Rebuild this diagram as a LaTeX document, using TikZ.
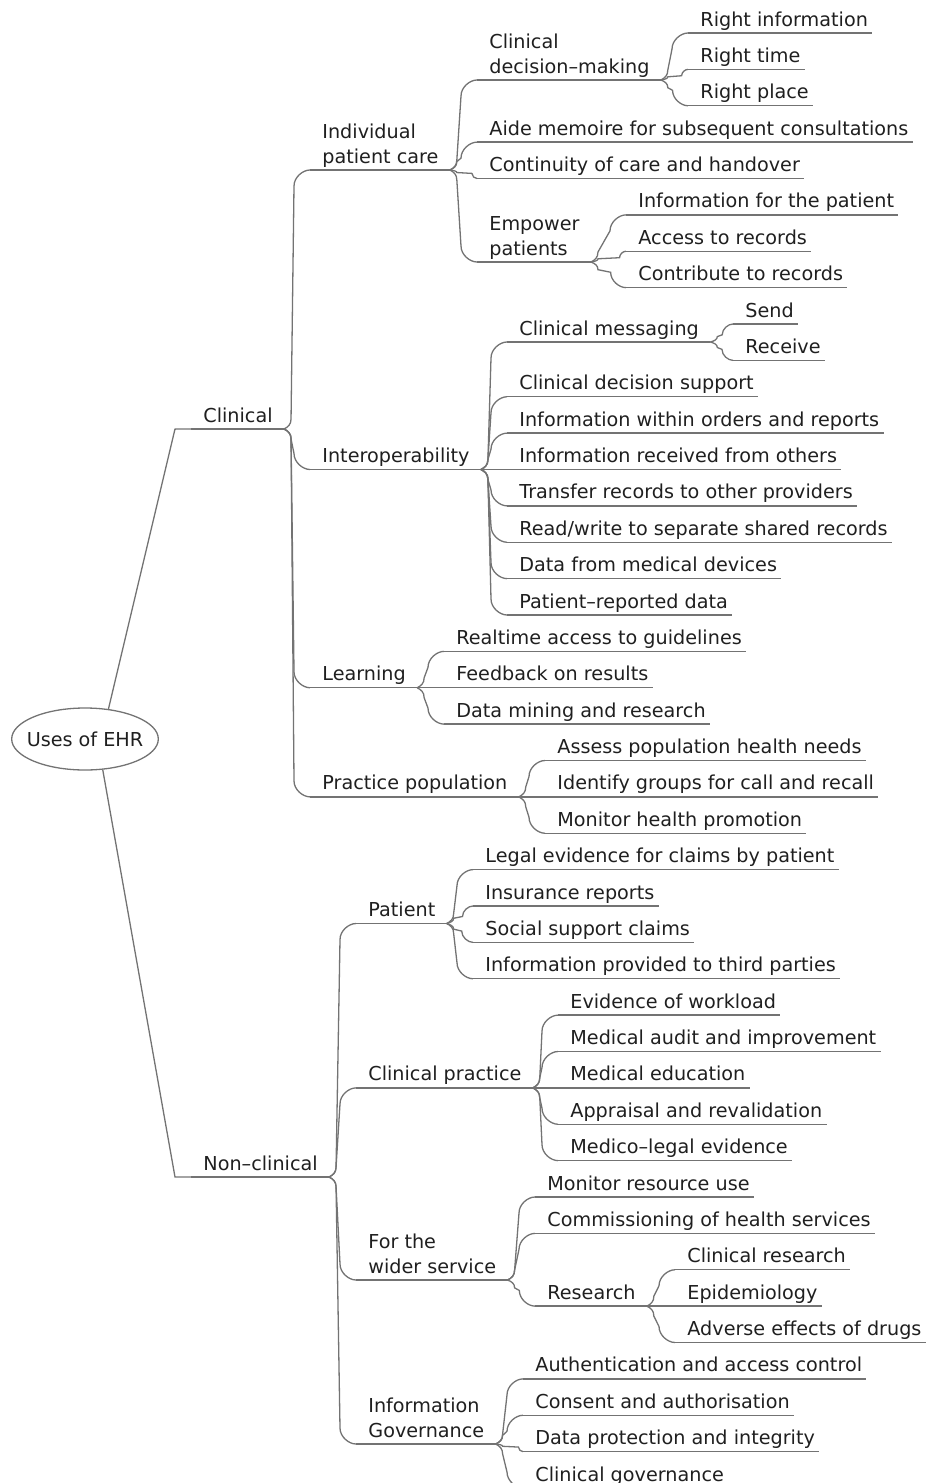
\documentclass[tikz,border=0pt]{standalone}
\usepackage{fontspec}
\setmainfont{DejaVu Sans}
\usetikzlibrary{calc,shapes.geometric}
\begin{document}
\begin{tikzpicture}[x=0.5pt,y=-0.5pt,
  every node/.style={font=\fontsize{9.6}{12.5}\selectfont, text=black!88},
  item/.style={anchor=south west, inner sep=0pt, align=left, text depth=0pt},
  link/.style={draw=black!55, line width=0.65pt},
  % bracket-like connector: short bend at the parent, steep run,
  % rounded corner into the child's underline
  twig/.style={to path={let \p1=(\tikztostart), \p2=(\tikztotarget),
      \n1={\y2-\y1}, \n2={abs(\n1)}, \n3={\n1/max(\n2,0.001)},
      \n4={min(5,0.3*\n2)}, \n5={min(8,0.6*\n2)} in
      .. controls (\x1+2pt,\y1+0.2*\n3*\n4) and (\x1+3.5pt,\y1+0.45*\n3*\n4)
      .. (\x1+3.5pt,\y1+\n3*\n4)
      -- (\x2-\n5,\y2-\n3*\n5)
      .. controls (\x2-\n5,\y2-0.45*\n3*\n5) and (\x2-0.45*\n5,\y2)
      .. (\tikztotarget)}},
  % straight slanted connector with a rounded corner at the child
  stem/.style={to path={let \p1=(\tikztostart), \p2=(\tikztotarget),
      \p3=(\x2-8pt,\y2), \n1={veclen(\x3-\x1,\y3-\y1)},
      \p4=($(\p3)!{10/\n1}!(\p1)$) in
      -- (\p4) .. controls ($(\p4)!0.6!(\p3)$) and ($(\p2)!0.6!(\p3)$)
      .. (\tikztotarget)}}]
\useasboundingbox (0,0) rectangle (930,1483);

% root
\node[ellipse, draw=black!55, line width=0.65pt, inner xsep=-3.2pt,
      inner ysep=0pt, minimum height=31pt] (root) at (85,739) {Uses of EHR};

% first level
\node[item] (cl) at (203,422.5) {Clinical};
\node[item] (nc) at (203,1170.5) {Non–clinical};

% clinical
\node[item] (ipc) at (322,163.5) {Individual\\patient care};
\node[item] (io) at (322,463) {Interoperability};
\node[item] (le) at (322,681.25) {Learning};
\node[item] (pp) at (322,790.375) {Practice population};

\node[item] (cdm) at (489,73.5) {Clinical\\decision–making};
\node[item] (am) at (489,135.625) {Aide memoire for subsequent consultations};
\node[item] (cc) at (489,172) {Continuity of care and handover};
\node[item] (ep) at (489,255.5) {Empower\\patients};

\node[item] (r1) at (700,26.5) {Right information};
\node[item] (r2) at (700,62.875) {Right time};
\node[item] (r3) at (700,99.25) {Right place};

\node[item] (e1) at (638,208.375) {Information for the patient};
\node[item] (e2) at (638,244.75) {Access to records};
\node[item] (e3) at (638,281.125) {Contribute to records};

\node[item] (cm) at (519,335.5) {Clinical messaging};
\node[item] (s1) at (745,317.5) {Send};
\node[item] (s2) at (745,353.875) {Receive};
\node[item] (i1) at (519,390.25) {Clinical decision support};
\node[item] (i2) at (519,426.625) {Information within orders and reports};
\node[item] (i3) at (519,463) {Information received from others};
\node[item] (i4) at (519,499.375) {Transfer records to other providers};
\node[item] (i5) at (519,535.75) {Read/write to separate shared records};
\node[item] (i6) at (519,572.125) {Data from medical devices};
\node[item] (i7) at (519,608.5) {Patient–reported data};

\node[item] (l1) at (456,644.875) {Realtime access to guidelines};
\node[item] (l2) at (456,681.25) {Feedback on results};
\node[item] (l3) at (456,717.625) {Data mining and research};

\node[item] (p1) at (557,754) {Assess population health needs};
\node[item] (p2) at (557,790.375) {Identify groups for call and recall};
\node[item] (p3) at (557,826.75) {Monitor health promotion};

% non-clinical
\node[item] (pa) at (368,917) {Patient};
\node[item] (cp) at (368,1081.375) {Clinical practice};
\node[item] (ws) at (368,1273.5) {For the\\wider service};
\node[item] (ig) at (368,1437.5) {Information\\Governance};

\node[item] (a1) at (485,863.125) {Legal evidence for claims by patient};
\node[item] (a2) at (485,899.5) {Insurance reports};
\node[item] (a3) at (485,935.875) {Social support claims};
\node[item] (a4) at (485,972.25) {Information provided to third parties};

\node[item] (c1) at (570,1008.625) {Evidence of workload};
\node[item] (c2) at (570,1045) {Medical audit and improvement};
\node[item] (c3) at (570,1081.375) {Medical education};
\node[item] (c4) at (570,1117.75) {Appraisal and revalidation};
\node[item] (c5) at (570,1154.125) {Medico–legal evidence};

\node[item] (w1) at (547,1190.5) {Monitor resource use};
\node[item] (w2) at (547,1226.875) {Commissioning of health services};
\node[item] (rs) at (547,1299.625) {Research};
\node[item] (x1) at (687,1263.25) {Clinical research};
\node[item] (x2) at (687,1299.625) {Epidemiology};
\node[item] (x3) at (687,1336) {Adverse effects of drugs};

\node[item] (g1) at (535,1372.375) {Authentication and access control};
\node[item] (g2) at (535,1408.75) {Consent and authorisation};
\node[item] (g3) at (535,1445.125) {Data protection and integrity};
\node[item] (g4) at (535,1481.5) {Clinical governance};

% underlines of branching topics
\foreach \n in {cl,nc,ipc,io,le,pp,pa,cp,ws,ig,cdm,ep,cm,rs}
  \draw[link] ($(\n.south west)+(-12,6.5)$) coordinate (\n-in)
    -- ($(\n.south east)+(11,6.5)$) coordinate (\n-out);

% underlines of leaf topics
\foreach \n in {am,cc,r1,r2,r3,e1,e2,e3,s1,s2,i1,i2,i3,i4,i5,i6,i7,
                l1,l2,l3,p1,p2,p3,a1,a2,a3,a4,c1,c2,c3,c4,c5,
                w1,w2,x1,x2,x3,g1,g2,g3,g4}
  \draw[link] ($(\n.south west)+(-12,6.5)$) coordinate (\n-in)
    -- ($(\n.south east)+(4,6.5)$);

% connectors
\draw[link] (root.52) to[stem] (cl-in);
\draw[link] (root.-60) to[stem] (nc-in);
\foreach \p/\cs in {cl/{ipc,io,le,pp}, ipc/{cdm,am,cc,ep}, cdm/{r1,r2,r3},
    ep/{e1,e2,e3}, io/{cm,i1,i2,i3,i4,i5,i6,i7}, cm/{s1,s2},
    le/{l1,l2,l3}, pp/{p1,p2,p3}, nc/{pa,cp,ws,ig}, pa/{a1,a2,a3,a4},
    cp/{c1,c2,c3,c4,c5}, ws/{w1,w2,rs}, rs/{x1,x2,x3}, ig/{g1,g2,g3,g4}}
  \foreach \c in \cs
    \draw[link] (\p-out) to[twig] (\c-in);
\end{tikzpicture}
\end{document}
